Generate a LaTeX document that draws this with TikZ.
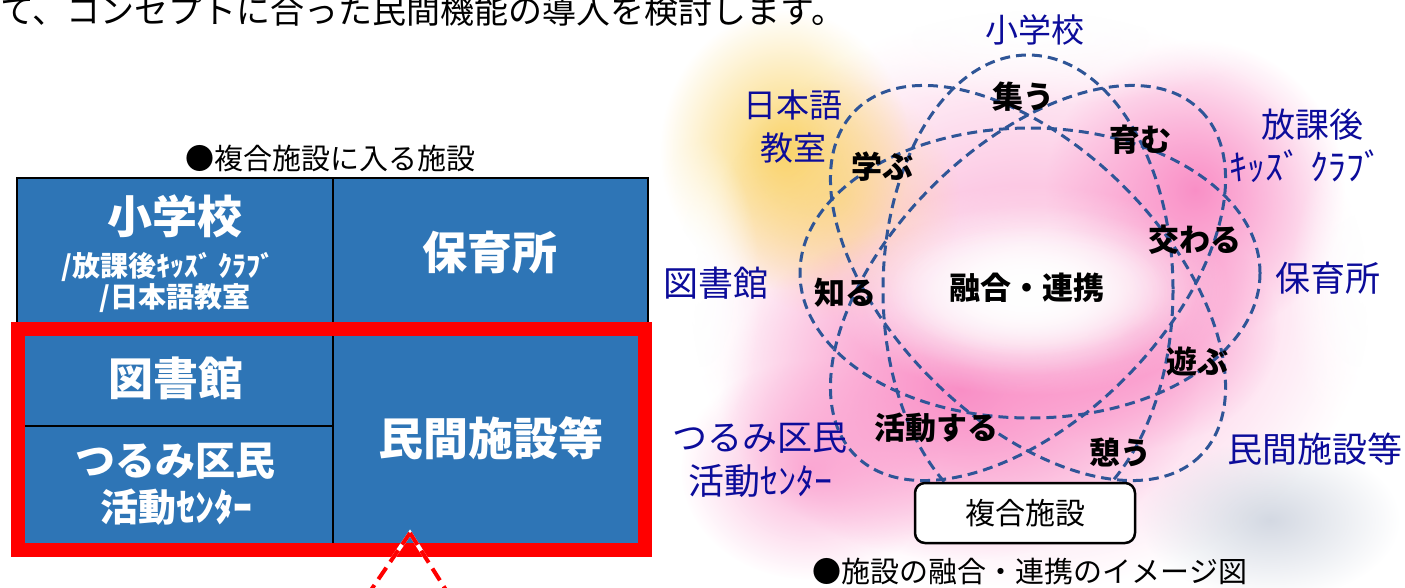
\documentclass[tikz,border=0pt]{standalone}
\usepackage{fontspec}
\newfontfamily\jp{Noto Sans CJK JP}
\usetikzlibrary{fadings}
\definecolor{cellblue}{HTML}{2E75B6}
\definecolor{navy}{HTML}{0C0C9A}
\definecolor{ringc}{HTML}{2F5597}
\definecolor{glowpink}{HTML}{F98FC6}
\definecolor{glowyel}{HTML}{FAD46A}
\definecolor{glowgray}{HTML}{D3D8E2}
\definecolor{redframe}{HTML}{FF0000}
\tikzfading[name=fuzzy, inner color=transparent!0, outer color=transparent!100]
\tikzset{
  fs/.style={font=\jp\fontsize{#1}{#1}\selectfont},
  celltxt/.style={font=\jp\bfseries\fontsize{#1}{#1}\selectfont, text=white, inner sep=0pt},
  lbl/.style={font=\jp\fontsize{#1}{#1}\selectfont, text=navy, inner sep=0pt},
  verb/.style={font=\jp\bfseries\fontsize{#1}{#1}\selectfont, text=black, inner sep=0pt},
  ring/.style={draw=ringc, line width=3pt, dash pattern=on 10pt off 6pt},
  glow/.style={fill=#1, path fading=fuzzy},
}
\begin{document}
\begin{tikzpicture}[x=1pt,y=-1pt]
\useasboundingbox (0,0) rectangle (1405,587);

% ---------- right diagram: glows (drawn first, under everything) ----------
\fill[glow=glowpink, fill opacity=0.8] (1030,300) ellipse (340 and 290);
\fill[glow=glowyel] (785,150) ellipse (125 and 140);
\fill[glow=glowyel, fill opacity=0.5] (840,200) ellipse (120 and 120);
\fill[glow=glowpink] (1195,190) ellipse (150 and 150);
\fill[glow=glowpink] (960,390) ellipse (240 and 170);
\fill[glow=glowpink] (1130,330) ellipse (150 and 120);
\fill[glow=glowpink, fill opacity=0.7] (810,470) ellipse (130 and 110);
\fill[glow=glowgray] (1270,520) ellipse (130 and 80);
\fill[glow=white] (1030,35) ellipse (230 and 70);
\fill[glow=white] (700,290) ellipse (60 and 150);
\fill[glow=white] (1360,290) ellipse (70 and 150);
\fill[glow=white] (1028,290) ellipse (200 and 105);
\fill[glow=white] (1028,290) ellipse (170 and 85);
\fill[glow=white] (1028,290) ellipse (140 and 65);

% ---------- top sentence ----------
\node[fs=34, anchor=base west, inner sep=0pt] (top) at (0,23) {て、コンセプトに合った民間機能の導入を検討します。};

% ---------- left table ----------
\node[fs=29, inner sep=0pt] (tcap) at (330,158) {●複合施設に入る施設};
\fill[cellblue] (17,178) rectangle (648,545);
\draw[black, line width=2pt] (17,322) -- (17,178) -- (648,178) -- (648,322);
\draw[black, line width=2pt] (333,178) -- (333,545);
\draw[black, line width=2pt] (25,426) -- (333,426);
\draw[redframe, line width=14pt] (17.5,329) rectangle (644.5,550);

\node[celltxt=45] (c1) at (175,216) {小学校};
\node[celltxt=28] (c1b) at (168,267) {/放課後ｷｯｽﾞ ｸﾗﾌﾞ};
\node[celltxt=28] (c1c) at (175,298) {/日本語教室};
\node[celltxt=45] (c2) at (490,252) {保育所};
\node[celltxt=45] (c3) at (176,378) {図書館};
\node[celltxt=40] (c4) at (175,461) {つるみ区民};
\node[celltxt=38] (c4b) at (176,507) {活動ｾﾝﾀｰ};
\node[celltxt=45] (c5) at (491,438) {民間施設等};

% callout legs
\coordinate (apex) at (410,533);
\coordinate (legL) at (371,590);
\coordinate (legR) at (446,590);
\draw[white, line width=4pt] (legL) -- (apex) -- (legR);
\draw[redframe, line width=4pt, dash pattern=on 14pt off 7pt] (apex) -- (legL);
\draw[redframe, line width=4pt, dash pattern=on 14pt off 7pt] (apex) -- (legR);

% ---------- rings ----------
\draw[ring] (1028,290) ellipse (145 and 235);
\draw[ring] (1030,273) ellipse (230 and 145);
\draw[ring, rotate around={45:(1028,283)}] (1028,283) ellipse (244 and 136);
\draw[ring, rotate around={-45:(1028,283)}] (1028,283) ellipse (244 and 136);

% ---------- labels ----------
\node[lbl=33] (r1) at (1035,30) {小学校};
\node[lbl=33] (r2) at (793,105) {日本語};
\node[lbl=33] (r2b) at (793,148) {教室};
\node[lbl=34] (r3) at (1312,125) {放課後};
\node[lbl=36] (r3b) at (1306,166) {ｷｯｽﾞ ｸﾗﾌﾞ};
\node[lbl=35] (r4) at (716,283) {図書館};
\node[lbl=35] (r5) at (1328,278) {保育所};
\node[lbl=35] (r6) at (760,438) {つるみ区民};
\node[lbl=36] (r6b) at (760,481) {活動ｾﾝﾀｰ};
\node[lbl=35] (r7) at (1315,449) {民間施設等};

\node[verb=31] (v1) at (1023,97) {集う};
\node[verb=31] (v2) at (1140,140) {育む};
\node[verb=31] (v3) at (882,167) {学ぶ};
\node[verb=31] (v4) at (1195,240) {交わる};
\node[verb=31] (v5) at (845,293) {知る};
\node[verb=31] (v0) at (1027,288) {融合・連携};
\node[verb=31] (v6) at (1197,361) {遊ぶ};
\node[verb=31] (v7) at (936,428) {活動する};
\node[verb=31] (v8) at (1120,452) {憩う};

% ---------- box & caption ----------
\node[draw=black, line width=2.5pt, fill=white, rounded corners=10pt,
      minimum width=220pt, minimum height=60pt, fs=30, inner sep=0pt] (box) at (1025,513) {複合施設};
\node[fs=29, inner sep=0pt] (cap) at (1030,571) {●施設の融合・連携のイメージ図};
\end{tikzpicture}
\end{document}
